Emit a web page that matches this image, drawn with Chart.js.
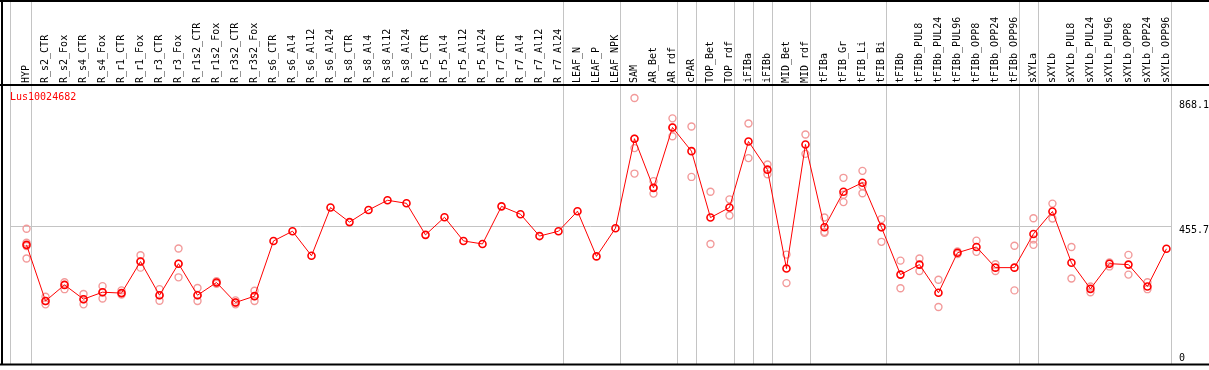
<!DOCTYPE html>
<html>
<head>
<meta charset="utf-8">
<script src="https://cdn.jsdelivr.net/npm/chart.js@4/dist/chart.umd.min.js"></script>
<style>
  body { margin: 0; background: #fff; }
  #wrap { width: 1209px; height: 370px; position: relative; }
</style>
</head>
<body>
<div id="wrap"><canvas id="chart"></canvas></div>
<script>
var geneName = 'Lus10024682';

var categories = ['HYP', 'R_s2_CTR', 'R_s2_Fox', 'R_s4_CTR', 'R_s4_Fox', 'R_r1_CTR', 'R_r1_Fox',
  'R_r3_CTR', 'R_r3_Fox', 'R_r1s2_CTR', 'R_r1s2_Fox', 'R_r3s2_CTR', 'R_r3s2_Fox',
  'R_s6_CTR', 'R_s6_Al4', 'R_s6_Al12', 'R_s6_Al24', 'R_s8_CTR', 'R_s8_Al4', 'R_s8_Al12', 'R_s8_Al24',
  'R_r5_CTR', 'R_r5_Al4', 'R_r5_Al12', 'R_r5_Al24', 'R_r7_CTR', 'R_r7_Al4', 'R_r7_Al12', 'R_r7_Al24',
  'LEAF_N', 'LEAF_P', 'LEAF_NPK', 'SAM', 'AR_Bet', 'AR_rdf', 'cPAR', 'TOP_Bet', 'TOP_rdf',
  'iFIBa', 'iFIBb', 'MID_Bet', 'MID_rdf', 'tFIBa', 'tFIB_Gr', 'tFIB_Li', 'tFIB_Bi',
  'tFIBb', 'tFIBb_PUL8', 'tFIBb_PUL24', 'tFIBb_PUL96', 'tFIBb_OPP8', 'tFIBb_OPP24', 'tFIBb_OPP96',
  'sXYLa', 'sXYLb', 'sXYLb_PUL8', 'sXYLb_PUL24', 'sXYLb_PUL96', 'sXYLb_OPP8', 'sXYLb_OPP24', 'sXYLb_OPP96'];

// mean expression per sample
var meanValues = [394, 209, 262, 215, 238, 235, 339, 228, 332, 228, 270, 204, 225,
  407, 439, 358, 517, 469, 509, 541, 531, 427, 485, 407, 397, 521, 495, 423, 439,
  505, 356, 449, 744, 582, 781, 703, 484, 517, 735, 642, 316, 725,
  452, 569, 599, 452, 296, 329, 236, 368, 387, 319, 319,
  430, 504, 335, 249, 332, 329, 257, 381];

// individual replicates (light circles)
var replicateValues = [
  [447, 401, 390, 349], [223, 209, 198], [271, 262, 248], [232, 215, 198], [258, 238, 217],
  [244, 235, 230], [360, 339, 319], [248, 228, 210], [382, 332, 287], [252, 228, 209],
  [274, 270, 266], [211, 204, 198], [243, 225, 209],
  [], [], [], [], [], [], [], [], [], [], [], [], [], [], [], [],
  [], [], [],
  [878, 744, 713, 629], [604, 582, 563], [811, 781, 752], [784, 618], [569, 397], [544, 491],
  [794, 680], [659, 627], [362, 268], [758, 694],
  [484, 437, 434], [615, 559, 535], [638, 588, 564], [479, 452, 404],
  [342, 251], [349, 308], [279, 189], [372, 364], [408, 371], [330, 308], [391, 244],
  [482, 412, 394], [530, 481], [387, 283], [257, 238], [336, 323], [361, 296], [271, 248], []
];

// last sample of each group (separator drawn after it)
var groupEnds = [1, 29, 32, 35, 36, 38, 39, 40, 42, 46, 53, 54];
var yTicks = [0, 455.7, 868.1];

var monoFont = '10px "DejaVu Sans Mono", monospace';

var meanPoints = meanValues.map(function(v, i) { return {x: i + 1, y: v}; });
var repPoints = [];
replicateValues.forEach(function(reps, i) {
  reps.forEach(function(v) { repPoints.push({x: i + 1, y: v}); });
});

var decor = {
  id: 'decor',
  beforeDatasetsDraw: function(chart) {
    var ctx = chart.ctx, area = chart.chartArea, xs = chart.scales.x;
    ctx.save();
    ctx.strokeStyle = '#c4c4c4';
    ctx.lineWidth = 1;
    var xsList = [area.left, area.right];
    groupEnds.forEach(function(g) { xsList.push(xs.getPixelForValue(g + 0.237)); });
    xsList.forEach(function(px) {
      px = Math.round(px) + 0.5;
      ctx.beginPath();
      ctx.moveTo(px, 0);
      ctx.lineTo(px, area.bottom);
      ctx.stroke();
    });
    ctx.restore();
  },
  afterDraw: function(chart) {
    var ctx = chart.ctx, area = chart.chartArea, ys = chart.scales.y;
    var w = chart.width;
    ctx.save();
    ctx.strokeStyle = '#000';
    ctx.lineWidth = 2;
    ctx.beginPath();
    ctx.moveTo(0, 1); ctx.lineTo(w, 1);
    ctx.moveTo(0, area.top); ctx.lineTo(w, area.top);
    ctx.moveTo(0, area.bottom); ctx.lineTo(w, area.bottom);
    ctx.moveTo(2, 0); ctx.lineTo(2, area.bottom);
    ctx.stroke();

    ctx.font = monoFont;
    ctx.fillStyle = '#000';
    ctx.textAlign = 'left';
    ctx.textBaseline = 'middle';
    yTicks.forEach(function(v) {
      var py = ys.getPixelForValue(v) + 4;
      if (py > area.bottom - 5) py = area.bottom - 6;
      ctx.fillText(String(v), area.right + 8, py);
    });

    ctx.fillStyle = '#ff0000';
    ctx.fillText(geneName, area.left, area.top + 12);
    ctx.restore();
  }
};

new Chart(document.getElementById('chart'), {
  type: 'line',
  data: {
    datasets: [
      {
        data: meanPoints,
        borderColor: '#ff0000',
        borderWidth: 1,
        pointRadius: 3.5,
        pointBorderWidth: 1.6,
        pointBorderColor: '#ff0000',
        pointBackgroundColor: 'rgba(0,0,0,0)',
        tension: 0,
        order: 0
      },
      {
        data: repPoints,
        showLine: false,
        pointRadius: 3.5,
        pointBorderWidth: 1.4,
        pointBorderColor: '#f29a9a',
        pointBackgroundColor: 'rgba(0,0,0,0)',
        order: 1
      }
    ]
  },
  options: {
    responsive: true,
    maintainAspectRatio: false,
    animation: false,
    layout: { padding: { left: 10, top: 0, right: 0, bottom: 1 } },
    plugins: { legend: { display: false }, tooltip: { enabled: false } },
    scales: {
      x: {
        type: 'linear',
        position: 'top',
        min: 0.13,
        max: 61.24,
        afterBuildTicks: function(s) { s.ticks = categories.map(function(c, i) { return {value: i + 1}; }); },
        afterFit: function(s) { s.height = 85; },
        grid: { display: false },
        border: { display: false },
        ticks: {
          autoSkip: false,
          minRotation: 90,
          maxRotation: 90,
          padding: -6,
          labelOffset: 12,
          color: '#000',
          font: { family: '"DejaVu Sans Mono", monospace', size: 10 },
          callback: function(v) { return categories[v - 1]; }
        }
      },
      y: {
        position: 'right',
        min: 0,
        max: 921,
        afterBuildTicks: function(s) { s.ticks = yTicks.map(function(v) { return {value: v}; }); },
        afterFit: function(s) { s.width = 38; },
        ticks: { display: false },
        grid: {
          drawTicks: false,
          color: function(c) { return c.tick && c.tick.value === 455.7 ? '#c4c4c4' : 'rgba(0,0,0,0)'; }
        },
        border: { display: false }
      }
    }
  },
  plugins: [decor]
});
</script>
</body>
</html>
